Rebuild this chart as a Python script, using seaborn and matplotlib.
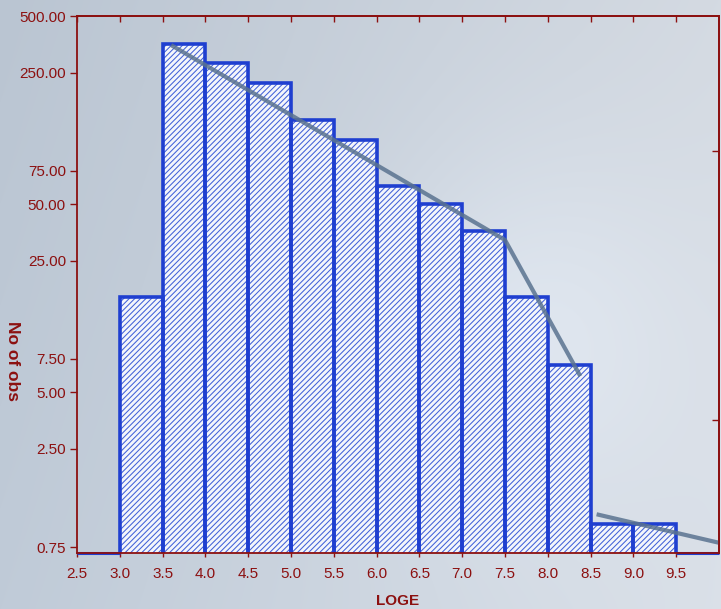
import numpy as np
import matplotlib
matplotlib.use("Agg")
import matplotlib.pyplot as plt
import seaborn as sns

# Histogram of LOGE (bin width 0.5) with observation counts per bin
bin_edges = [3.0, 3.5, 4.0, 4.5, 5.0, 5.5, 6.0, 6.5, 7.0, 7.5, 8.0, 8.5, 9.0, 9.5]
counts = [16, 355, 280, 219, 140, 109, 62, 50, 36, 16, 7, 1, 1]
empty_bins = [(2.5, 3.0), (9.5, 10.0)]

# Fitted frequency curve (two pieces)
fit_x1 = [3.6, 7.5, 8.38]
fit_y1 = [350, 32.2, 6.08]
fit_x2 = [8.57, 10.0]
fit_y2 = [1.12, 0.79]

x_ticks = [2.5, 3.0, 3.5, 4.0, 4.5, 5.0, 5.5, 6.0, 6.5, 7.0, 7.5, 8.0, 8.5, 9.0, 9.5]
y_ticks = [0.75, 2.5, 5.0, 7.5, 25.0, 50.0, 75.0, 250.0, 500.0]
right_ticks = [95.8, 3.54]

DARK_RED = "#8c1010"
BLUE = "#1f3fd0"
HATCH = "#4261d8"
LINE = "#5a7390"

sns.set_theme(style="white")
plt.rcParams["font.family"] = ["Liberation Sans", "DejaVu Sans"]
plt.rcParams["hatch.linewidth"] = 0.75

W, H, DPI = 721, 609, 100
fig = plt.figure(figsize=(W / DPI, H / DPI), dpi=DPI)

# soft bluish-grey backdrop
yy, xx = np.mgrid[0:H, 0:W]
u = xx / W
v = yy / H
left = np.array([186, 197, 210])
right = np.array([212, 218, 226])
base = left[None, None, :] * (1 - u[..., None]) + right[None, None, :] * u[..., None]
blob = np.exp(-(((u - 0.72) / 0.22) ** 2 + ((v - 0.55) / 0.3) ** 2))
base = base + 14 * blob[..., None]
base = base + 6 * v[..., None]
img = np.clip(base, 0, 255).astype(np.uint8)
bg = fig.add_axes([0, 0, 1, 1], zorder=-10)
bg.imshow(img, aspect="auto", interpolation="bilinear")
bg.set_axis_off()

ax = fig.add_axes([77 / W, 1 - 553 / H, (719 - 77) / W, (553 - 16) / H], zorder=1)
ax.set_facecolor("none")
ax.set_yscale("log")

centers = [(a + b) / 2 for a, b in zip(bin_edges[:-1], bin_edges[1:])]
# hatched fill layer
sns.histplot(x=centers, weights=counts, bins=bin_edges, ax=ax,
             color="#f4f6fb", edgecolor=HATCH, linewidth=0, alpha=1,
             hatch="//////", zorder=2)
n_fill = len(ax.patches)
for p in ax.patches:
    p.set_facecolor("#f4f6fb")
    p.set_edgecolor(HATCH)
    p.set_linewidth(0)
    p.set_hatch("//////")
# outline layer
sns.histplot(x=centers, weights=counts, bins=bin_edges, ax=ax,
             fill=False, color=BLUE, linewidth=2.6, zorder=2.5)
for p in ax.patches[n_fill:]:
    p.set_facecolor("none")
    p.set_edgecolor(BLUE)
    p.set_linewidth(2.6)

ylo, yhi = 0.697, 500
for a, b in empty_bins:
    ax.hlines(ylo, a, b, color=BLUE, lw=2.2, zorder=2, clip_on=False)

ax.plot(fit_x1, fit_y1, color=LINE, lw=3, alpha=0.85, zorder=3, solid_capstyle="butt")
ax.plot(fit_x2, fit_y2, color=LINE, lw=3, alpha=0.85, zorder=3, solid_capstyle="butt")

ax.set_xlim(2.5, 10.0)
ax.set_ylim(ylo, yhi)

ax.set_xticks(x_ticks)
ax.set_xticklabels([f"{t:.1f}" for t in x_ticks])
ax.set_yticks(y_ticks)
ax.set_yticklabels([f"{t:.2f}" for t in y_ticks])
ax.yaxis.set_minor_locator(matplotlib.ticker.NullLocator())

ax.tick_params(axis="x", direction="out", length=3, width=1, color=DARK_RED,
               labelcolor=DARK_RED, labelsize=11, pad=7, bottom=True)
ax.tick_params(axis="y", direction="out", length=5, width=1, color=DARK_RED,
               labelcolor=DARK_RED, labelsize=11, pad=3, left=True)

for s in ax.spines.values():
    s.set_color(DARK_RED)
    s.set_linewidth(1.3)
    s.set_visible(True)
    s.set_zorder(4)

top = ax.secondary_xaxis("top")
top.set_xticks(x_ticks)
top.tick_params(direction="in", length=4, width=1, color=DARK_RED, labeltop=False)
top.spines["top"].set_color(DARK_RED)
top.spines["top"].set_linewidth(1.3)

rgt = ax.secondary_yaxis("right")
rgt.set_yticks(right_ticks)
rgt.yaxis.set_minor_locator(matplotlib.ticker.NullLocator())
rgt.tick_params(direction="in", length=5, width=1, color=DARK_RED, labelright=False)
rgt.spines["right"].set_color(DARK_RED)
rgt.spines["right"].set_linewidth(1.3)

ax.set_xlabel("LOGE", color=DARK_RED, fontsize=11, fontweight="bold", va="center")
ax.xaxis.set_label_coords(0.5, -0.089)
ax.set_ylabel("No of obs", color=DARK_RED, fontsize=12.5, fontweight="bold",
              rotation=270, va="center", ha="center")
ax.yaxis.set_label_coords(-0.0997, 0.357)

fig.savefig("out.png", dpi=DPI)
